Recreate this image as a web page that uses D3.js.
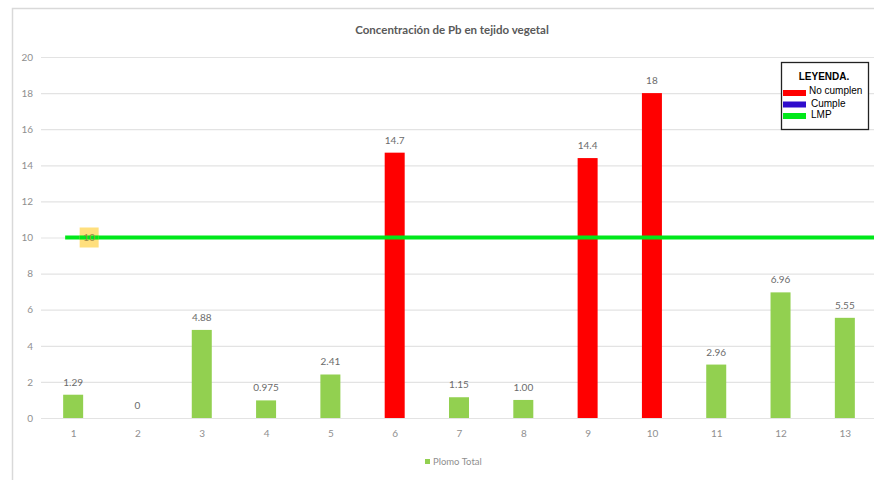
<!DOCTYPE html>
<html>
<head>
<meta charset="utf-8">
<script src="https://cdn.jsdelivr.net/npm/d3@7"></script>
<style>
  html, body { margin: 0; padding: 0; background: #fff; }
  svg { display: block; }
</style>
</head>
<body>
<svg id="chart" width="874" height="480"></svg>
<script>
// Sample points and measured total lead (Pb) in plant tissue
const categories = ["1","2","3","4","5","6","7","8","9","10","11","12","13"];
const plomoTotal = [1.29, 0, 4.88, 0.975, 2.41, 14.7, 1.15, 1.00, 14.4, 18, 2.96, 6.96, 5.55];
const valueLabels = ["1.29","0","4.88","0.975","2.41","14.7","1.15","1.00","14.4","18","2.96","6.96","5.55"];
const lmp = 10;
const yTicks = [0, 2, 4, 6, 8, 10, 12, 14, 16, 18, 20];
const legendItems = ["No cumplen", "Cumple", "LMP"];

const svg = d3.select("#chart");
const W = 874, H = 480;
const plot = { left: 41, right: 877, top: 57, bottom: 418 };

const GREEN = "#92d050", RED = "#ff0000", BLUE = "#2e0ccc", LINE = "#00e81a";

// outer chart frame
svg.append("rect")
  .attr("x", 12.5).attr("y", 8.5)
  .attr("width", W).attr("height", H)
  .attr("fill", "#fff").attr("stroke", "#d9d9d9").attr("stroke-width", 1.5);

const x = d3.scalePoint().domain(categories).range([plot.left, plot.right]).padding(0.5);
const y = d3.scaleLinear().domain([0, 20]).range([plot.bottom, plot.top]);

// gridlines + y tick labels
const yAxis = svg.append("g")
  .attr("transform", `translate(${plot.left},0)`)
  .call(d3.axisLeft(y).tickValues(yTicks).tickSize(-(W - plot.left)).tickPadding(8).tickFormat(d3.format("d")));
yAxis.select(".domain").remove();
yAxis.selectAll(".tick line").attr("stroke", "#e3e3e3").attr("stroke-width", 1.2);
yAxis.selectAll(".tick text")
  .attr("fill", "#8f8f8f").attr("font-family", "Lato, 'Open Sans', sans-serif").attr("font-size", 10);

// x tick labels
const xAxis = svg.append("g")
  .attr("transform", `translate(0,${plot.bottom})`)
  .call(d3.axisBottom(x).tickSize(0).tickPadding(12));
xAxis.select(".domain").remove();
xAxis.selectAll(".tick text")
  .attr("fill", "#8f8f8f").attr("font-family", "Lato, 'Open Sans', sans-serif").attr("font-size", 10);

// bars: red where the value exceeds the LMP
const barW = 20;
const data = categories.map((c, i) => ({ c, v: plomoTotal[i], label: valueLabels[i] }));
svg.append("g").selectAll("rect")
  .data(data).join("rect")
  .attr("x", d => x(d.c) - barW / 2)
  .attr("y", d => y(d.v))
  .attr("width", barW)
  .attr("height", d => y(0) - y(d.v))
  .attr("fill", d => d.v > lmp ? RED : GREEN);

// value labels
svg.append("g").selectAll("text")
  .data(data).join("text")
  .attr("x", d => x(d.c))
  .attr("y", d => y(d.v) - 9)
  .attr("text-anchor", "middle")
  .attr("fill", "#6b6b6b")
  .attr("font-family", "Lato, 'Open Sans', sans-serif")
  .attr("font-size", 10)
  .text(d => d.label);

// LMP reference line
svg.append("line")
  .attr("x1", x(categories[0]) - 8).attr("x2", W)
  .attr("y1", y(lmp)).attr("y2", y(lmp))
  .attr("stroke", LINE).attr("stroke-width", 4);

// LMP value tag
const tagX = x(categories[0]) + 16;
svg.append("rect")
  .attr("x", tagX - 9.5).attr("y", y(lmp) - 10)
  .attr("width", 19).attr("height", 20)
  .attr("fill", "#ffd966").attr("opacity", 0.85);
svg.append("line")
  .attr("x1", tagX - 9.5).attr("x2", tagX + 9.5)
  .attr("y1", y(lmp)).attr("y2", y(lmp))
  .attr("stroke", LINE).attr("stroke-width", 4);
svg.append("text")
  .attr("x", tagX).attr("y", y(lmp) + 3.5)
  .attr("text-anchor", "middle")
  .attr("fill", "#a08a4a")
  .attr("font-family", "Lato, 'Open Sans', sans-serif")
  .attr("font-size", 10)
  .text(lmp);

// title
svg.append("text")
  .attr("x", 452).attr("y", 34)
  .attr("text-anchor", "middle")
  .attr("fill", "#595959")
  .attr("font-family", "Lato, 'Open Sans', sans-serif")
  .attr("font-weight", "bold")
  .attr("font-size", 11.5)
  .text("Concentración de Pb en tejido vegetal");

// series legend
svg.append("rect").attr("x", 425).attr("y", 459).attr("width", 5).attr("height", 5).attr("fill", GREEN);
svg.append("text")
  .attr("x", 433).attr("y", 465)
  .attr("fill", "#8f8f8f")
  .attr("font-family", "Lato, 'Open Sans', sans-serif")
  .attr("font-size", 9.5)
  .text("Plomo Total");

// LEYENDA box
const lg = svg.append("g").attr("transform", "translate(781,62)");
lg.append("rect").attr("x", 0.5).attr("y", 0.5).attr("width", 87).attr("height", 67)
  .attr("fill", "#fff").attr("stroke", "#222").attr("stroke-width", 1.3);
lg.append("text").attr("x", 43).attr("y", 18).attr("text-anchor", "middle")
  .attr("font-family", "'Liberation Sans', Arial, sans-serif").attr("font-weight", "bold")
  .attr("font-size", 10).attr("fill", "#000").text("LEYENDA.");
const legendColors = [RED, BLUE, LINE];
const rows = lg.selectAll("g.row").data(legendItems).join("g")
  .attr("class", "row")
  .attr("transform", (d, i) => `translate(0,${30 + i * 11.5})`);
rows.append("rect").attr("x", 2).attr("y", -2).attr("width", 23).attr("height", 6)
  .attr("fill", (d, i) => legendColors[i]);
rows.append("text").attr("x", (d, i) => i === 0 ? 28 : 30).attr("y", (d, i) => i === 0 ? 2 : 3)
  .attr("font-family", "'Liberation Sans', Arial, sans-serif")
  .attr("font-size", 10).attr("fill", "#000").text(d => d);
</script>
</body>
</html>
